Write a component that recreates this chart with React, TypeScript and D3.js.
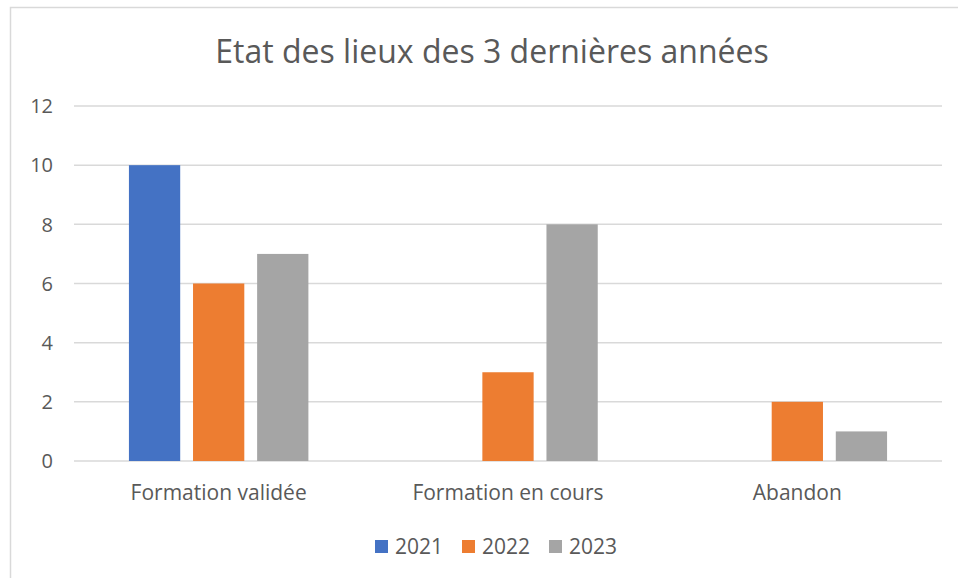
import React from "react";
import * as d3 from "d3";

const categories = ["Formation validée", "Formation en cours", "Abandon"];
const years = ["2021", "2022", "2023"];
const values2021 = [10, 0, 0];
const values2022 = [6, 3, 2];
const values2023 = [7, 8, 1];
const yTicks = [0, 2, 4, 6, 8, 10, 12];
const colors = ["#4472C4", "#ED7D31", "#A5A5A5"];

const W = 958;
const H = 578;
const FONT = "'Open Sans', 'Noto Sans', sans-serif";
const TEXT = "#595959";

export default function App() {
  const series = [values2021, values2022, values2023];
  const margin = { left: 74, right: 942, top: 106, bottom: 461 };

  const x0 = d3.scaleBand().domain(categories).range([margin.left, margin.right]).padding(0);
  const x1 = d3.scaleBand().domain(years).range([0, x0.bandwidth()])
    .paddingInner(0.2).paddingOuter(0.857);
  const y = d3.scaleLinear().domain([0, 12]).range([margin.bottom, margin.top]);

  const legendStart = 375;
  const legendStep = 87;

  return (
    <svg width={W} height={H} style={{ position: "absolute", left: 0, top: 0, background: "#fff" }}>
      <rect x={10.5} y={7.5} width={965} height={590} fill="#fff" stroke="#D9D9D9" strokeWidth={1.5} />
      <text x={492} y={63} textAnchor="middle" fontFamily={FONT} fontSize={32} fill={TEXT}>
        Etat des lieux des 3 dernières années
      </text>
      {yTicks.map((t) => (
        <g key={t}>
          <line x1={margin.left} x2={margin.right} y1={y(t)} y2={y(t)} stroke="#D9D9D9" strokeWidth={1.5} />
          <text x={53} y={y(t)} dy="0.36em" textAnchor="end" fontFamily={FONT} fontSize={20} fill={TEXT}>
            {t}
          </text>
        </g>
      ))}
      {categories.map((c, ci) => (
        <g key={c} transform={`translate(${x0(c)},0)`}>
          {years.map((yr, si) => {
            const v = series[si][ci];
            if (!v) return null;
            return (
              <rect key={yr} x={x1(yr)} y={y(v)} width={x1.bandwidth()} height={y(0) - y(v)} fill={colors[si]} />
            );
          })}
          <text x={x0.bandwidth() / 2} y={500} textAnchor="middle" fontFamily={FONT} fontSize={21} fill={TEXT}>
            {c}
          </text>
        </g>
      ))}
      {years.map((yr, i) => (
        <g key={yr} transform={`translate(${legendStart + i * legendStep},540)`}>
          <rect x={0} y={0} width={13} height={13} fill={colors[i]} />
          <text x={20} y={14} fontFamily={FONT} fontSize={21} fill={TEXT}>
            {yr}
          </text>
        </g>
      ))}
    </svg>
  );
}
